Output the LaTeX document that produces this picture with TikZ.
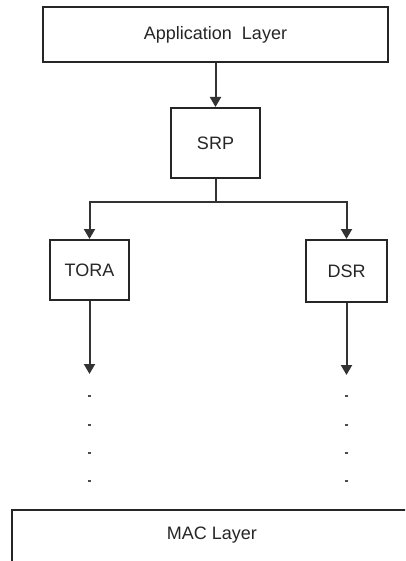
\documentclass[tikz,border=0pt]{standalone}
\usepackage{fontspec}
\setmainfont{Liberation Sans}
\usetikzlibrary{arrows.meta}
\begin{document}
\begin{tikzpicture}[x=1pt,y=-1pt,
  box/.style={draw=black!85,line width=2pt,fill=white,inner sep=0pt,font=\fontsize{18}{21}\selectfont,text=black!85},
  conn/.style={draw=black!80,line width=2pt},
  arr/.style={conn,-{Triangle[length=10pt,width=11pt]}},
  dotmark/.style={fill=black!70,inner sep=0pt,minimum size=2.5pt}]
\useasboundingbox (0,0) rectangle (405,561);
\clip (0,0) rectangle (405,561);
\node[box,minimum width=345pt,minimum height=55pt] (app) at (215.5,34.5) {Application\ \ Layer};
\node[box,minimum width=89pt,minimum height=70pt] (srp) at (215.5,143) {SRP};
\node[box,minimum width=79pt,minimum height=60pt] (tora) at (89.5,270) {TORA};
\node[box,minimum width=81pt,minimum height=62pt] (dsr) at (346.5,271) {DSR};
\node[box,minimum width=420pt,minimum height=80pt,anchor=north west] (mac) at (11,509) {};
\node[font=\fontsize{18}{21}\selectfont,text=black!85] (mactext) at (212,535) {MAC Layer};
\coordinate (split) at (srp.south |- 0,202);
\coordinate (tend) at (tora.south |- 0,374);
\coordinate (dend) at (dsr.south |- 0,375);
\draw[arr] (app.south -| srp.north) -- (srp.north);
\draw[conn] (srp.south) -- (split);
\draw[arr] (split) -| (tora.north);
\draw[arr] (split) -| (dsr.north);
\draw[arr] (tora.south) -- (tend);
\draw[arr] (dsr.south) -- (dend);
\foreach \y [count=\i] in {396,425,453,481}{
  \node[dotmark] (td\i) at (tora.south |- 0,\y) {};
  \node[dotmark] (dd\i) at (dsr.south |- 0,\y) {};
}
\end{tikzpicture}
\end{document}
